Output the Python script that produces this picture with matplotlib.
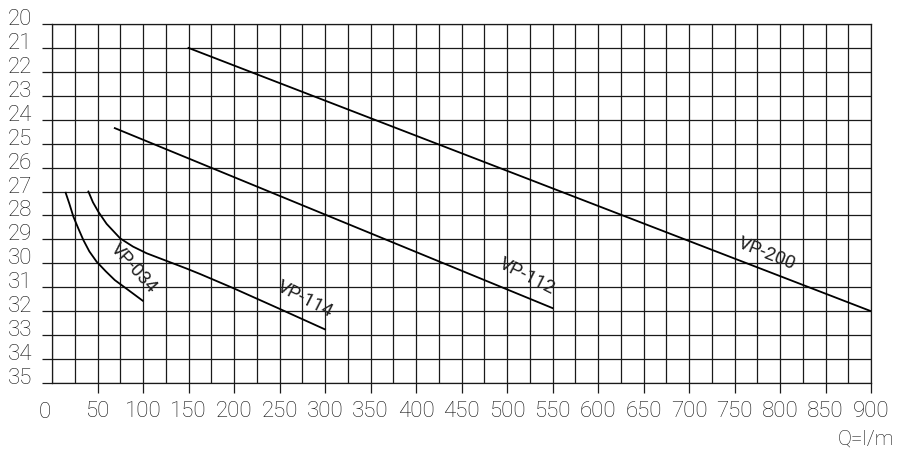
import numpy as np
import matplotlib.pyplot as plt
import matplotlib.transforms as mtransforms

# flow Q (l/m) vs vacuum reading
vp200_q = [150, 900]
vp200_h = [21.0, 32.0]

vp112_q = [69, 550]
vp112_h = [24.35, 31.87]

vp114_q = [40, 45, 51, 60, 75, 89, 104, 126, 148, 163, 200, 250, 300]
vp114_h = [27.0, 27.45, 27.85, 28.35, 28.96, 29.3, 29.58, 29.9, 30.22, 30.45, 31.05, 31.9, 32.76]

vp034_q = [15, 19, 23.5, 29, 34.5, 41, 49, 59, 69, 84, 99.6]
vp034_h = [27.05, 27.5, 28.05, 28.55, 29.03, 29.5, 29.93, 30.33, 30.7, 31.12, 31.56]

# label name, position (q, h), angle
curve_labels = [
    ("VP-200", 785, 29.6, -22),
    ("VP-112", 522, 30.55, -27),
    ("VP-114", 278, 31.52, -27),
    ("VP-034", 90, 30.2, -48),
]

x_ticks = list(range(50, 901, 50))
y_ticks = list(range(20, 36))

ink = '#1a1a1a'
txt = '#111111'

plt.rcParams['font.family'] = ['Roboto', 'DejaVu Sans']
plt.rcParams['font.weight'] = 'light'

fig = plt.figure(figsize=(8.97, 4.5), dpi=100)
ax = fig.add_axes([52 / 897, 1 - 383 / 450, (871 - 52) / 897, (383 - 24) / 450])

ax.set_xlim(0, 900)
ax.set_ylim(35, 20)

# grid: every 25 l/m and every unit
for q in range(0, 901, 25):
    ax.axvline(q, color=ink, lw=0.9, zorder=1)
for h in y_ticks:
    ax.axhline(h, color=ink, lw=0.9, zorder=1)

for s in ax.spines.values():
    s.set_color(ink)
    s.set_linewidth(0.9)

ax.plot(vp200_q, vp200_h, color='black', lw=1.3, zorder=3)
ax.plot(vp112_q, vp112_h, color='black', lw=1.3, zorder=3)
ax.plot(vp114_q, vp114_h, color='black', lw=1.3, zorder=3)
ax.plot(vp034_q, vp034_h, color='black', lw=1.3, zorder=3)

for name, q, h, ang in curve_labels:
    ax.text(q, h, name, rotation=ang, rotation_mode='anchor', ha='center', va='center',
            fontsize=13.5, fontweight='normal', color='#222222', zorder=4)

ax.set_xticks(x_ticks)
ax.set_xticklabels([str(v) for v in x_ticks])
ax.set_yticks(y_ticks)
ax.set_yticklabels([str(v) for v in y_ticks])
ax.tick_params(axis='both', direction='out', length=7.2, width=0.9, color=ink,
               labelsize=16, labelcolor=txt)
ax.tick_params(axis='x', pad=6)
ax.tick_params(axis='y', pad=7)

# y labels sit a little above their grid line
shift = mtransforms.ScaledTranslation(0, 7 / 100, fig.dpi_scale_trans)
for lab in ax.get_yticklabels():
    lab.set_transform(lab.get_transform() + shift)

# zero label, no tick under the spine
zero_tr = ax.get_xaxis_transform() + mtransforms.ScaledTranslation(-7 / 100, -29 / 100, fig.dpi_scale_trans)
ax.text(0, 0, "0", transform=zero_tr, ha='center', va='center', fontsize=16, color=txt)

fig.text(894 / 897, 1 - 439 / 450, "Q=l/m", ha='right', va='center', fontsize=15, color=txt)

fig.savefig('out.png', dpi=100)
